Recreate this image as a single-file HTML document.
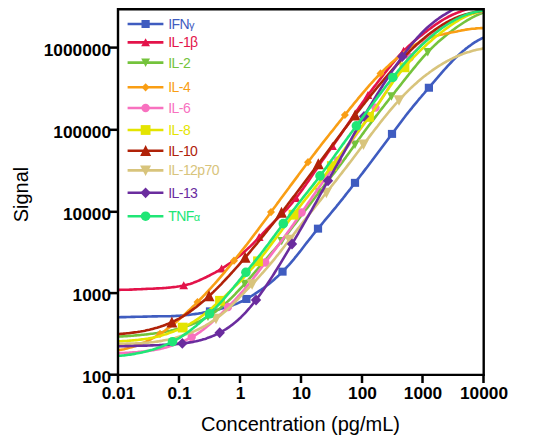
<!DOCTYPE html>
<html><head><meta charset="utf-8"><style>
html,body{margin:0;padding:0;background:#fff;width:534px;height:439px;overflow:hidden}
svg{display:block}
.tk{font-family:"Liberation Sans",sans-serif;font-weight:bold;font-size:17.3px;fill:#000}
.tt{font-family:"Liberation Sans",sans-serif;font-size:20px;fill:#000}
.lg{font-family:"Liberation Sans",sans-serif;font-size:14px;letter-spacing:-0.55px}
.gk{font-size:11px}
</style></head><body>
<svg width="534" height="439" viewBox="0 0 534 439">
<defs><clipPath id="cp"><rect x="118" y="9" width="366" height="366"/></clipPath></defs>
<rect width="534" height="439" fill="#fff"/>
<g clip-path="url(#cp)"><polyline points="118,317.2 119.5,317.2 121,317.1 122.5,317.1 124,317.1 125.5,317.1 127,317.0 128.5,317.0 130,317.0 131.5,316.9 133,316.9 134.5,316.9 136,316.8 137.5,316.8 139,316.8 140.5,316.7 142,316.7 143.5,316.6 145,316.6 146.5,316.6 148,316.5 149.5,316.5 151,316.5 152.5,316.4 154,316.4 155.5,316.4 157,316.4 158.5,316.3 160,316.3 161.5,316.3 163,316.3 164.5,316.3 166,316.3 167.5,316.3 169,316.2 170.5,316.2 172,316.1 173.5,316.1 175,316.0 176.5,315.9 178,315.8 179.5,315.7 181,315.6 182.5,315.5 184,315.3 185.5,315.2 187,315.0 188.5,314.9 190,314.7 191.5,314.5 193,314.3 194.5,314.1 196,313.9 197.5,313.7 199,313.4 200.5,313.2 202,312.9 203.5,312.6 205,312.4 206.5,312.1 208,311.8 209.5,311.5 211,311.1 212.5,310.8 214,310.5 215.5,310.1 217,309.7 218.5,309.4 220,309.0 221.5,308.6 223,308.2 224.5,307.8 226,307.3 227.5,306.9 229,306.4 230.5,305.9 232,305.4 233.5,304.9 235,304.3 236.5,303.7 238,303.1 239.5,302.4 241,301.7 242.5,301.0 244,300.2 245.5,299.4 247,298.6 248.5,297.8 250,296.9 251.5,296.0 253,295.1 254.5,294.2 256,293.2 257.5,292.2 259,291.2 260.5,290.2 262,289.1 263.5,288.1 265,287.0 266.5,285.8 268,284.7 269.5,283.5 271,282.2 272.5,281.0 274,279.7 275.5,278.3 277,277.0 278.5,275.6 280,274.1 281.5,272.7 283,271.1 284.5,269.6 286,268.0 287.5,266.4 289,264.8 290.5,263.1 292,261.3 293.5,259.6 295,257.7 296.5,255.9 298,254.0 299.5,252.1 301,250.2 302.5,248.2 304,246.3 305.5,244.3 307,242.4 308.5,240.5 310,238.6 311.5,236.7 313,234.8 314.5,232.9 316,231.1 317.5,229.2 319,227.4 320.5,225.6 322,223.8 323.5,222.0 325,220.2 326.5,218.4 328,216.6 329.5,214.8 331,213.0 332.5,211.2 334,209.4 335.5,207.6 337,205.7 338.5,203.9 340,202.0 341.5,200.1 343,198.3 344.5,196.4 346,194.4 347.5,192.5 349,190.6 350.5,188.7 352,186.7 353.5,184.8 355,182.8 356.5,180.9 358,178.9 359.5,177.0 361,175.0 362.5,173.1 364,171.1 365.5,169.1 367,167.2 368.5,165.2 370,163.2 371.5,161.3 373,159.3 374.5,157.3 376,155.3 377.5,153.3 379,151.3 380.5,149.3 382,147.3 383.5,145.3 385,143.3 386.5,141.3 388,139.3 389.5,137.3 391,135.2 392.5,133.2 394,131.2 395.5,129.2 397,127.2 398.5,125.2 400,123.2 401.5,121.2 403,119.2 404.5,117.3 406,115.3 407.5,113.4 409,111.5 410.5,109.6 412,107.8 413.5,105.9 415,104.1 416.5,102.3 418,100.5 419.5,98.7 421,97.0 422.5,95.2 424,93.5 425.5,91.7 427,89.9 428.5,88.2 430,86.4 431.5,84.7 433,82.9 434.5,81.2 436,79.4 437.5,77.7 439,75.9 440.5,74.2 442,72.4 443.5,70.7 445,69.0 446.5,67.3 448,65.7 449.5,64.1 451,62.5 452.5,60.9 454,59.4 455.5,57.9 457,56.5 458.5,55.1 460,53.7 461.5,52.4 463,51.1 464.5,49.9 466,48.6 467.5,47.5 469,46.3 470.5,45.3 472,44.2 473.5,43.2 475,42.2 476.5,41.3 478,40.4 479.5,39.6 481,38.8 482.5,38.1 484,37.4" fill="none" stroke="#3f5cc0" stroke-width="2.6" stroke-linejoin="round"/><rect x="205.90" y="307.35" width="8.20" height="8.00" fill="#3f5cc0"/><rect x="242.30" y="294.96" width="8.20" height="8.00" fill="#3f5cc0"/><rect x="278.40" y="267.65" width="8.20" height="8.00" fill="#3f5cc0"/><rect x="313.90" y="224.64" width="8.20" height="8.00" fill="#3f5cc0"/><rect x="350.90" y="178.84" width="8.20" height="8.00" fill="#3f5cc0"/><rect x="387.90" y="129.90" width="8.20" height="8.00" fill="#3f5cc0"/><rect x="424.80" y="83.73" width="8.20" height="8.00" fill="#3f5cc0"/><polyline points="118,289.9 119.5,289.9 121,289.8 122.5,289.8 124,289.8 125.5,289.7 127,289.7 128.5,289.7 130,289.6 131.5,289.6 133,289.5 134.5,289.4 136,289.4 137.5,289.3 139,289.2 140.5,289.2 142,289.1 143.5,289.0 145,289.0 146.5,288.9 148,288.8 149.5,288.8 151,288.7 152.5,288.7 154,288.6 155.5,288.5 157,288.4 158.5,288.4 160,288.3 161.5,288.2 163,288.1 164.5,288.0 166,287.9 167.5,287.7 169,287.6 170.5,287.5 172,287.3 173.5,287.1 175,287.0 176.5,286.8 178,286.5 179.5,286.3 181,286.0 182.5,285.8 184,285.5 185.5,285.1 187,284.7 188.5,284.3 190,283.9 191.5,283.4 193,282.9 194.5,282.3 196,281.7 197.5,281.1 199,280.5 200.5,279.8 202,279.1 203.5,278.4 205,277.7 206.5,277.0 208,276.2 209.5,275.5 211,274.7 212.5,273.9 214,273.1 215.5,272.3 217,271.4 218.5,270.6 220,269.7 221.5,268.7 223,267.8 224.5,266.8 226,265.9 227.5,264.8 229,263.8 230.5,262.8 232,261.7 233.5,260.6 235,259.5 236.5,258.3 238,257.1 239.5,255.9 241,254.7 242.5,253.4 244,252.1 245.5,250.8 247,249.4 248.5,248.0 250,246.6 251.5,245.1 253,243.7 254.5,242.1 256,240.6 257.5,239.1 259,237.5 260.5,235.9 262,234.3 263.5,232.7 265,231.1 266.5,229.5 268,228.0 269.5,226.4 271,224.9 272.5,223.4 274,221.9 275.5,220.4 277,219.0 278.5,217.6 280,216.2 281.5,214.7 283,213.3 284.5,211.7 286,210.1 287.5,208.5 289,206.7 290.5,205.0 292,203.2 293.5,201.3 295,199.4 296.5,197.4 298,195.5 299.5,193.5 301,191.4 302.5,189.4 304,187.3 305.5,185.2 307,183.1 308.5,180.9 310,178.7 311.5,176.5 313,174.3 314.5,172.1 316,169.9 317.5,167.7 319,165.5 320.5,163.3 322,161.1 323.5,159.0 325,156.9 326.5,154.7 328,152.6 329.5,150.5 331,148.4 332.5,146.3 334,144.2 335.5,142.1 337,139.9 338.5,137.8 340,135.7 341.5,133.5 343,131.3 344.5,129.1 346,126.9 347.5,124.6 349,122.4 350.5,120.1 352,117.8 353.5,115.6 355,113.3 356.5,111.1 358,109.0 359.5,106.8 361,104.7 362.5,102.6 364,100.5 365.5,98.5 367,96.4 368.5,94.4 370,92.4 371.5,90.4 373,88.4 374.5,86.4 376,84.5 377.5,82.5 379,80.5 380.5,78.6 382,76.7 383.5,74.7 385,72.8 386.5,70.9 388,69.0 389.5,67.1 391,65.3 392.5,63.4 394,61.6 395.5,59.8 397,58.1 398.5,56.4 400,54.7 401.5,53.1 403,51.6 404.5,50.0 406,48.6 407.5,47.1 409,45.7 410.5,44.4 412,43.1 413.5,41.8 415,40.5 416.5,39.3 418,38.0 419.5,36.8 421,35.6 422.5,34.5 424,33.3 425.5,32.1 427,31.0 428.5,29.8 430,28.7 431.5,27.6 433,26.5 434.5,25.4 436,24.3 437.5,23.3 439,22.3 440.5,21.3 442,20.4 443.5,19.5 445,18.6 446.5,17.8 448,17.0 449.5,16.2 451,15.5 452.5,14.8 454,14.1 455.5,13.5 457,12.9 458.5,12.3 460,11.7 461.5,11.1 463,10.6 464.5,10.0 466,9.5 467.5,9.0 469,8.6 470.5,8.1 472,7.7 473.5,7.3 475,6.9 476.5,6.5 478,6.1 479.5,5.7 481,5.4 482.5,5.1 484,4.8" fill="none" stroke="#e3134a" stroke-width="2.6" stroke-linejoin="round"/><path d="M183.70 281.32L188.10 289.32L179.30 289.32Z" fill="#e3134a"/><path d="M221.60 264.48L226.00 272.48L217.20 272.48Z" fill="#e3134a"/><path d="M259.20 233.09L263.60 241.09L254.80 241.09Z" fill="#e3134a"/><path d="M296.00 193.90L300.40 201.90L291.60 201.90Z" fill="#e3134a"/><path d="M332.50 142.09L336.90 150.09L328.10 150.09Z" fill="#e3134a"/><path d="M368.00 90.88L372.40 98.88L363.60 98.88Z" fill="#e3134a"/><path d="M403.60 46.75L408.00 54.75L399.20 54.75Z" fill="#e3134a"/><polyline points="118,336.6 119.5,336.5 121,336.5 122.5,336.4 124,336.3 125.5,336.2 127,336.1 128.5,336.0 130,335.9 131.5,335.8 133,335.7 134.5,335.5 136,335.4 137.5,335.3 139,335.1 140.5,335.0 142,334.8 143.5,334.7 145,334.5 146.5,334.4 148,334.2 149.5,334.0 151,333.8 152.5,333.7 154,333.5 155.5,333.3 157,333.1 158.5,332.8 160,332.6 161.5,332.4 163,332.1 164.5,331.8 166,331.6 167.5,331.3 169,331.0 170.5,330.7 172,330.3 173.5,330.0 175,329.6 176.5,329.2 178,328.9 179.5,328.4 181,328.0 182.5,327.6 184,327.1 185.5,326.6 187,326.1 188.5,325.6 190,325.0 191.5,324.5 193,323.9 194.5,323.3 196,322.7 197.5,322.0 199,321.4 200.5,320.7 202,320.0 203.5,319.2 205,318.4 206.5,317.6 208,316.7 209.5,315.8 211,314.8 212.5,313.8 214,312.7 215.5,311.6 217,310.5 218.5,309.4 220,308.2 221.5,306.9 223,305.6 224.5,304.3 226,303.0 227.5,301.6 229,300.2 230.5,298.8 232,297.3 233.5,295.8 235,294.3 236.5,292.7 238,291.1 239.5,289.5 241,287.9 242.5,286.3 244,284.6 245.5,282.9 247,281.2 248.5,279.5 250,277.8 251.5,276.1 253,274.3 254.5,272.6 256,270.8 257.5,269.1 259,267.3 260.5,265.5 262,263.8 263.5,262.0 265,260.2 266.5,258.5 268,256.8 269.5,255.1 271,253.4 272.5,251.7 274,250.0 275.5,248.3 277,246.5 278.5,244.8 280,243.0 281.5,241.2 283,239.3 284.5,237.4 286,235.5 287.5,233.6 289,231.7 290.5,229.7 292,227.8 293.5,225.8 295,223.9 296.5,221.9 298,219.9 299.5,218.0 301,216.0 302.5,214.0 304,212.0 305.5,210.0 307,208.1 308.5,206.1 310,204.1 311.5,202.1 313,200.2 314.5,198.2 316,196.3 317.5,194.3 319,192.4 320.5,190.4 322,188.5 323.5,186.6 325,184.6 326.5,182.7 328,180.8 329.5,178.9 331,176.9 332.5,175.0 334,173.1 335.5,171.1 337,169.2 338.5,167.2 340,165.2 341.5,163.2 343,161.2 344.5,159.1 346,157.1 347.5,155.0 349,152.9 350.5,150.8 352,148.7 353.5,146.6 355,144.5 356.5,142.4 358,140.3 359.5,138.2 361,136.2 362.5,134.1 364,132.1 365.5,130.0 367,128.0 368.5,126.0 370,124.0 371.5,122.0 373,120.1 374.5,118.1 376,116.1 377.5,114.2 379,112.2 380.5,110.3 382,108.4 383.5,106.5 385,104.5 386.5,102.6 388,100.7 389.5,98.8 391,96.9 392.5,95.0 394,93.2 395.5,91.3 397,89.4 398.5,87.5 400,85.6 401.5,83.7 403,81.8 404.5,79.9 406,78.0 407.5,76.1 409,74.2 410.5,72.4 412,70.5 413.5,68.6 415,66.8 416.5,65.0 418,63.2 419.5,61.4 421,59.6 422.5,57.9 424,56.2 425.5,54.6 427,53.0 428.5,51.4 430,49.8 431.5,48.3 433,46.9 434.5,45.4 436,44.0 437.5,42.6 439,41.3 440.5,40.0 442,38.7 443.5,37.4 445,36.2 446.5,35.0 448,33.8 449.5,32.6 451,31.5 452.5,30.3 454,29.2 455.5,28.1 457,27.0 458.5,26.0 460,25.0 461.5,24.0 463,23.0 464.5,22.0 466,21.1 467.5,20.2 469,19.3 470.5,18.5 472,17.6 473.5,16.9 475,16.1 476.5,15.4 478,14.7 479.5,14.1 481,13.5 482.5,12.9 484,12.3" fill="none" stroke="#74c33c" stroke-width="2.6" stroke-linejoin="round"/><path d="M208.00 321.09L212.40 312.69L203.60 312.69Z" fill="#74c33c"/><path d="M244.80 288.12L249.20 279.72L240.40 279.72Z" fill="#74c33c"/><path d="M281.70 245.33L286.10 236.93L277.30 236.93Z" fill="#74c33c"/><path d="M319.20 196.53L323.60 188.13L314.80 188.13Z" fill="#74c33c"/><path d="M355.00 148.90L359.40 140.50L350.60 140.50Z" fill="#74c33c"/><path d="M391.50 100.72L395.90 92.32L387.10 92.32Z" fill="#74c33c"/><path d="M427.80 56.52L432.20 48.12L423.40 48.12Z" fill="#74c33c"/><polyline points="118,350.4 119.5,350.1 121,349.8 122.5,349.5 124,349.2 125.5,348.8 127,348.4 128.5,348.0 130,347.6 131.5,347.2 133,346.7 134.5,346.2 136,345.7 137.5,345.2 139,344.6 140.5,344.0 142,343.4 143.5,342.7 145,342.1 146.5,341.4 148,340.7 149.5,339.9 151,339.2 152.5,338.4 154,337.5 155.5,336.7 157,335.8 158.5,334.9 160,334.0 161.5,333.0 163,332.0 164.5,331.0 166,329.9 167.5,328.8 169,327.7 170.5,326.6 172,325.4 173.5,324.2 175,322.9 176.5,321.7 178,320.4 179.5,319.1 181,317.7 182.5,316.4 184,315.0 185.5,313.6 187,312.2 188.5,310.8 190,309.4 191.5,308.0 193,306.5 194.5,305.1 196,303.6 197.5,302.1 199,300.6 200.5,299.0 202,297.5 203.5,295.9 205,294.3 206.5,292.7 208,291.1 209.5,289.5 211,287.8 212.5,286.2 214,284.5 215.5,282.8 217,281.1 218.5,279.3 220,277.6 221.5,275.8 223,274.1 224.5,272.3 226,270.5 227.5,268.6 229,266.8 230.5,265.0 232,263.1 233.5,261.3 235,259.4 236.5,257.5 238,255.6 239.5,253.7 241,251.8 242.5,249.9 244,248.0 245.5,246.1 247,244.2 248.5,242.2 250,240.3 251.5,238.3 253,236.3 254.5,234.3 256,232.4 257.5,230.4 259,228.3 260.5,226.3 262,224.3 263.5,222.3 265,220.3 266.5,218.2 268,216.2 269.5,214.1 271,212.1 272.5,210.0 274,208.0 275.5,206.0 277,203.9 278.5,201.9 280,199.8 281.5,197.8 283,195.8 284.5,193.7 286,191.7 287.5,189.7 289,187.7 290.5,185.6 292,183.6 293.5,181.6 295,179.6 296.5,177.6 298,175.6 299.5,173.5 301,171.5 302.5,169.5 304,167.5 305.5,165.5 307,163.5 308.5,161.5 310,159.5 311.5,157.5 313,155.5 314.5,153.6 316,151.6 317.5,149.6 319,147.7 320.5,145.8 322,143.8 323.5,141.9 325,140.0 326.5,138.1 328,136.2 329.5,134.3 331,132.4 332.5,130.6 334,128.7 335.5,126.8 337,124.9 338.5,123.0 340,121.1 341.5,119.2 343,117.3 344.5,115.4 346,113.5 347.5,111.7 349,109.8 350.5,107.9 352,106.1 353.5,104.2 355,102.4 356.5,100.6 358,98.7 359.5,96.9 361,95.2 362.5,93.4 364,91.6 365.5,89.9 367,88.1 368.5,86.4 370,84.7 371.5,83.0 373,81.4 374.5,79.7 376,78.1 377.5,76.5 379,75.0 380.5,73.4 382,71.9 383.5,70.4 385,68.9 386.5,67.5 388,66.1 389.5,64.7 391,63.3 392.5,62.0 394,60.7 395.5,59.4 397,58.1 398.5,56.9 400,55.6 401.5,54.4 403,53.2 404.5,52.1 406,51.0 407.5,49.8 409,48.8 410.5,47.7 412,46.7 413.5,45.7 415,44.8 416.5,43.9 418,43.0 419.5,42.2 421,41.4 422.5,40.7 424,40.0 425.5,39.4 427,38.8 428.5,38.2 430,37.7 431.5,37.2 433,36.7 434.5,36.3 436,35.9 437.5,35.5 439,35.1 440.5,34.8 442,34.5 443.5,34.2 445,33.8 446.5,33.5 448,33.2 449.5,32.9 451,32.6 452.5,32.3 454,32.0 455.5,31.7 457,31.4 458.5,31.1 460,30.8 461.5,30.4 463,30.2 464.5,29.9 466,29.6 467.5,29.4 469,29.2 470.5,29.0 472,28.8 473.5,28.7 475,28.6 476.5,28.4 478,28.3 479.5,28.2 481,28.1 482.5,28.1 484,28.0" fill="none" stroke="#f99e14" stroke-width="2.6" stroke-linejoin="round"/><path d="M160.00 329.87L164.00 333.97L160.00 338.07L156.00 333.97Z" fill="#f99e14"/><path d="M197.50 297.97L201.50 302.07L197.50 306.17L193.50 302.07Z" fill="#f99e14"/><path d="M234.00 256.54L238.00 260.64L234.00 264.74L230.00 260.64Z" fill="#f99e14"/><path d="M271.00 207.99L275.00 212.09L271.00 216.19L267.00 212.09Z" fill="#f99e14"/><path d="M308.00 158.06L312.00 162.16L308.00 166.26L304.00 162.16Z" fill="#f99e14"/><path d="M344.90 110.81L348.90 114.91L344.90 119.01L340.90 114.91Z" fill="#f99e14"/><path d="M380.50 69.31L384.50 73.41L380.50 77.51L376.50 73.41Z" fill="#f99e14"/><polyline points="118,353.2 119.5,353.2 121,353.1 122.5,353.0 124,353.0 125.5,352.9 127,352.8 128.5,352.7 130,352.6 131.5,352.5 133,352.4 134.5,352.3 136,352.2 137.5,352.1 139,351.9 140.5,351.8 142,351.6 143.5,351.5 145,351.3 146.5,351.1 148,350.9 149.5,350.7 151,350.5 152.5,350.3 154,350.1 155.5,349.8 157,349.5 158.5,349.2 160,348.9 161.5,348.6 163,348.2 164.5,347.8 166,347.4 167.5,347.0 169,346.5 170.5,346.1 172,345.6 173.5,345.1 175,344.5 176.5,344.0 178,343.4 179.5,342.8 181,342.2 182.5,341.6 184,340.9 185.5,340.2 187,339.5 188.5,338.8 190,338.0 191.5,337.2 193,336.4 194.5,335.5 196,334.6 197.5,333.6 199,332.7 200.5,331.6 202,330.5 203.5,329.4 205,328.3 206.5,327.0 208,325.8 209.5,324.5 211,323.2 212.5,321.8 214,320.5 215.5,319.1 217,317.7 218.5,316.3 220,314.8 221.5,313.4 223,311.9 224.5,310.5 226,309.0 227.5,307.5 229,306.0 230.5,304.4 232,302.9 233.5,301.3 235,299.8 236.5,298.2 238,296.5 239.5,294.9 241,293.2 242.5,291.5 244,289.8 245.5,288.0 247,286.2 248.5,284.4 250,282.6 251.5,280.7 253,278.8 254.5,276.8 256,274.9 257.5,272.9 259,270.9 260.5,268.9 262,266.9 263.5,264.9 265,262.9 266.5,260.9 268,258.9 269.5,256.9 271,254.9 272.5,252.9 274,250.9 275.5,248.9 277,246.9 278.5,244.9 280,242.9 281.5,240.9 283,238.8 284.5,236.8 286,234.7 287.5,232.6 289,230.5 290.5,228.4 292,226.3 293.5,224.2 295,222.0 296.5,219.9 298,217.7 299.5,215.6 301,213.4 302.5,211.2 304,209.0 305.5,206.9 307,204.7 308.5,202.5 310,200.4 311.5,198.2 313,196.0 314.5,193.9 316,191.7 317.5,189.6 319,187.4 320.5,185.3 322,183.2 323.5,181.0 325,178.9 326.5,176.8 328,174.7 329.5,172.5 331,170.4 332.5,168.2 334,166.1 335.5,163.9 337,161.8 338.5,159.6 340,157.5 341.5,155.3 343,153.2 344.5,151.1 346,148.9 347.5,146.8 349,144.7 350.5,142.6 352,140.5 353.5,138.4 355,136.3 356.5,134.2 358,132.1 359.5,130.1 361,128.0 362.5,125.9 364,123.9 365.5,121.8 367,119.7 368.5,117.6 370,115.4 371.5,113.3 373,111.2 374.5,109.0 376,106.9 377.5,104.7 379,102.5 380.5,100.3 382,98.0 383.5,95.8 385,93.5 386.5,91.1 388,88.8 389.5,86.4 391,84.0 392.5,81.6 394,79.3 395.5,76.9 397,74.7 398.5,72.4 400,70.3 401.5,68.2 403,66.1 404.5,64.1 406,62.2 407.5,60.3 409,58.4 410.5,56.6 412,54.9 413.5,53.1 415,51.4 416.5,49.8 418,48.2 419.5,46.6 421,45.0 422.5,43.5 424,42.0 425.5,40.6 427,39.2 428.5,37.8 430,36.5 431.5,35.2 433,34.0 434.5,32.8 436,31.6 437.5,30.4 439,29.3 440.5,28.2 442,27.1 443.5,26.1 445,25.1 446.5,24.1 448,23.2 449.5,22.3 451,21.4 452.5,20.6 454,19.8 455.5,19.1 457,18.4 458.5,17.7 460,17.1 461.5,16.5 463,15.9 464.5,15.4 466,14.9 467.5,14.5 469,14.0 470.5,13.7 472,13.3 473.5,13.0 475,12.8 476.5,12.5 478,12.3 479.5,12.1 481,11.9 482.5,11.8 484,11.7" fill="none" stroke="#f871bf" stroke-width="2.6" stroke-linejoin="round"/><circle cx="191.70" cy="337.11" r="4.20" fill="#f871bf"/><circle cx="228.00" cy="306.98" r="4.20" fill="#f871bf"/><circle cx="265.30" cy="262.52" r="4.20" fill="#f871bf"/><circle cx="301.60" cy="212.52" r="4.20" fill="#f871bf"/><circle cx="338.00" cy="160.36" r="4.20" fill="#f871bf"/><circle cx="375.50" cy="107.60" r="4.20" fill="#f871bf"/><circle cx="410.00" cy="57.22" r="4.20" fill="#f871bf"/><polyline points="118,341.4 119.5,341.3 121,341.2 122.5,341.1 124,341.0 125.5,341.0 127,340.9 128.5,340.7 130,340.6 131.5,340.5 133,340.4 134.5,340.3 136,340.1 137.5,340.0 139,339.8 140.5,339.6 142,339.4 143.5,339.2 145,339.0 146.5,338.8 148,338.6 149.5,338.3 151,338.0 152.5,337.7 154,337.4 155.5,337.1 157,336.7 158.5,336.4 160,336.0 161.5,335.6 163,335.1 164.5,334.6 166,334.2 167.5,333.7 169,333.1 170.5,332.6 172,332.1 173.5,331.5 175,330.9 176.5,330.3 178,329.7 179.5,329.0 181,328.4 182.5,327.7 184,326.9 185.5,326.2 187,325.4 188.5,324.6 190,323.8 191.5,322.9 193,322.0 194.5,321.1 196,320.1 197.5,319.1 199,318.1 200.5,317.0 202,315.9 203.5,314.7 205,313.6 206.5,312.4 208,311.2 209.5,310.0 211,308.7 212.5,307.4 214,306.1 215.5,304.8 217,303.5 218.5,302.2 220,300.8 221.5,299.4 223,298.0 224.5,296.6 226,295.2 227.5,293.7 229,292.3 230.5,290.8 232,289.4 233.5,287.9 235,286.4 236.5,285.0 238,283.5 239.5,282.0 241,280.5 242.5,278.9 244,277.3 245.5,275.7 247,274.1 248.5,272.4 250,270.7 251.5,269.0 253,267.3 254.5,265.5 256,263.7 257.5,261.9 259,260.1 260.5,258.2 262,256.3 263.5,254.5 265,252.6 266.5,250.6 268,248.7 269.5,246.7 271,244.8 272.5,242.8 274,240.8 275.5,238.7 277,236.7 278.5,234.7 280,232.7 281.5,230.7 283,228.6 284.5,226.6 286,224.6 287.5,222.6 289,220.6 290.5,218.7 292,216.7 293.5,214.7 295,212.7 296.5,210.8 298,208.8 299.5,206.9 301,205.0 302.5,203.0 304,201.1 305.5,199.2 307,197.4 308.5,195.5 310,193.7 311.5,191.8 313,190.0 314.5,188.2 316,186.4 317.5,184.5 319,182.7 320.5,180.8 322,178.9 323.5,177.0 325,175.0 326.5,173.1 328,171.1 329.5,169.1 331,167.2 332.5,165.2 334,163.2 335.5,161.2 337,159.2 338.5,157.2 340,155.2 341.5,153.2 343,151.2 344.5,149.3 346,147.3 347.5,145.3 349,143.3 350.5,141.4 352,139.4 353.5,137.4 355,135.5 356.5,133.5 358,131.5 359.5,129.6 361,127.6 362.5,125.6 364,123.6 365.5,121.6 367,119.6 368.5,117.6 370,115.6 371.5,113.5 373,111.5 374.5,109.4 376,107.3 377.5,105.1 379,102.9 380.5,100.7 382,98.5 383.5,96.2 385,93.9 386.5,91.6 388,89.4 389.5,87.1 391,84.9 392.5,82.7 394,80.6 395.5,78.6 397,76.6 398.5,74.6 400,72.7 401.5,70.9 403,69.1 404.5,67.3 406,65.6 407.5,63.9 409,62.2 410.5,60.6 412,59.0 413.5,57.4 415,55.9 416.5,54.3 418,52.8 419.5,51.4 421,49.9 422.5,48.5 424,47.1 425.5,45.7 427,44.3 428.5,43.0 430,41.7 431.5,40.4 433,39.1 434.5,37.8 436,36.6 437.5,35.4 439,34.2 440.5,33.0 442,31.8 443.5,30.7 445,29.5 446.5,28.4 448,27.4 449.5,26.3 451,25.2 452.5,24.2 454,23.2 455.5,22.2 457,21.3 458.5,20.3 460,19.4 461.5,18.6 463,17.8 464.5,17.0 466,16.3 467.5,15.6 469,15.0 470.5,14.4 472,13.9 473.5,13.4 475,12.9 476.5,12.5 478,12.2 479.5,11.8 481,11.5 482.5,11.3 484,11.0" fill="none" stroke="#e4e400" stroke-width="2.6" stroke-linejoin="round"/><rect x="177.80" y="322.67" width="9.80" height="9.80" fill="#e4e400"/><rect x="215.10" y="295.89" width="9.80" height="9.80" fill="#e4e400"/><rect x="253.10" y="256.39" width="9.80" height="9.80" fill="#e4e400"/><rect x="288.60" y="209.81" width="9.80" height="9.80" fill="#e4e400"/><rect x="326.90" y="161.20" width="9.80" height="9.80" fill="#e4e400"/><rect x="364.10" y="112.04" width="9.80" height="9.80" fill="#e4e400"/><rect x="399.60" y="62.41" width="9.80" height="9.80" fill="#e4e400"/><polyline points="118,334.2 119.5,334.0 121,333.9 122.5,333.8 124,333.6 125.5,333.5 127,333.3 128.5,333.2 130,333.0 131.5,332.8 133,332.6 134.5,332.4 136,332.2 137.5,332.0 139,331.7 140.5,331.5 142,331.2 143.5,331.0 145,330.7 146.5,330.3 148,330.0 149.5,329.7 151,329.3 152.5,328.9 154,328.5 155.5,328.1 157,327.7 158.5,327.2 160,326.8 161.5,326.3 163,325.8 164.5,325.2 166,324.6 167.5,324.1 169,323.4 170.5,322.8 172,322.1 173.5,321.4 175,320.7 176.5,319.9 178,319.1 179.5,318.3 181,317.4 182.5,316.6 184,315.6 185.5,314.7 187,313.7 188.5,312.7 190,311.6 191.5,310.5 193,309.4 194.5,308.3 196,307.2 197.5,306.0 199,304.8 200.5,303.6 202,302.3 203.5,301.0 205,299.7 206.5,298.4 208,297.0 209.5,295.6 211,294.2 212.5,292.8 214,291.3 215.5,289.9 217,288.4 218.5,286.8 220,285.3 221.5,283.8 223,282.2 224.5,280.6 226,279.0 227.5,277.4 229,275.8 230.5,274.1 232,272.5 233.5,270.8 235,269.2 236.5,267.5 238,265.8 239.5,264.1 241,262.4 242.5,260.7 244,258.9 245.5,257.2 247,255.4 248.5,253.6 250,251.8 251.5,250.0 253,248.2 254.5,246.4 256,244.6 257.5,242.8 259,240.9 260.5,239.1 262,237.2 263.5,235.4 265,233.5 266.5,231.6 268,229.7 269.5,227.9 271,226.0 272.5,224.1 274,222.2 275.5,220.3 277,218.3 278.5,216.4 280,214.5 281.5,212.6 283,210.6 284.5,208.7 286,206.7 287.5,204.8 289,202.8 290.5,200.9 292,198.9 293.5,196.9 295,195.0 296.5,193.0 298,191.0 299.5,189.0 301,187.0 302.5,185.0 304,183.0 305.5,181.0 307,179.0 308.5,177.0 310,175.0 311.5,173.0 313,171.0 314.5,169.0 316,167.0 317.5,165.0 319,163.0 320.5,161.1 322,159.1 323.5,157.1 325,155.1 326.5,153.1 328,151.1 329.5,149.1 331,147.1 332.5,145.1 334,143.1 335.5,141.1 337,139.0 338.5,137.0 340,135.0 341.5,133.0 343,131.0 344.5,129.0 346,127.1 347.5,125.1 349,123.1 350.5,121.2 352,119.2 353.5,117.3 355,115.3 356.5,113.4 358,111.5 359.5,109.6 361,107.7 362.5,105.8 364,103.9 365.5,102.0 367,100.1 368.5,98.2 370,96.4 371.5,94.5 373,92.7 374.5,90.8 376,89.0 377.5,87.2 379,85.4 380.5,83.6 382,81.8 383.5,80.1 385,78.3 386.5,76.5 388,74.8 389.5,73.1 391,71.3 392.5,69.6 394,67.9 395.5,66.3 397,64.6 398.5,63.0 400,61.3 401.5,59.7 403,58.1 404.5,56.6 406,55.0 407.5,53.5 409,52.0 410.5,50.5 412,49.1 413.5,47.6 415,46.2 416.5,44.8 418,43.5 419.5,42.1 421,40.8 422.5,39.5 424,38.3 425.5,37.0 427,35.8 428.5,34.6 430,33.4 431.5,32.3 433,31.2 434.5,30.1 436,29.0 437.5,28.0 439,27.0 440.5,26.0 442,25.1 443.5,24.2 445,23.3 446.5,22.4 448,21.6 449.5,20.8 451,20.1 452.5,19.4 454,18.7 455.5,18.0 457,17.4 458.5,16.8 460,16.3 461.5,15.8 463,15.3 464.5,14.8 466,14.3 467.5,13.9 469,13.5 470.5,13.1 472,12.8 473.5,12.4 475,12.1 476.5,11.8 478,11.5 479.5,11.2 481,11.0 482.5,10.7 484,10.5" fill="none" stroke="#b02208" stroke-width="2.6" stroke-linejoin="round"/><path d="M171.90 316.39L177.40 327.39L166.40 327.39Z" fill="#b02208"/><path d="M209.00 290.33L214.50 301.33L203.50 301.33Z" fill="#b02208"/><path d="M245.10 251.85L250.60 262.85L239.60 262.85Z" fill="#b02208"/><path d="M281.50 206.79L287.00 217.79L276.00 217.79Z" fill="#b02208"/><path d="M318.30 158.20L323.80 169.20L312.80 169.20Z" fill="#b02208"/><path d="M355.10 109.43L360.60 120.43L349.60 120.43Z" fill="#b02208"/><polyline points="118,343.8 119.5,343.8 121,343.8 122.5,343.7 124,343.7 125.5,343.7 127,343.6 128.5,343.6 130,343.6 131.5,343.5 133,343.5 134.5,343.5 136,343.4 137.5,343.4 139,343.3 140.5,343.2 142,343.1 143.5,343.0 145,342.9 146.5,342.8 148,342.6 149.5,342.5 151,342.3 152.5,342.2 154,342.0 155.5,341.8 157,341.6 158.5,341.4 160,341.1 161.5,340.9 163,340.6 164.5,340.3 166,340.0 167.5,339.7 169,339.4 170.5,339.0 172,338.7 173.5,338.3 175,337.9 176.5,337.4 178,337.0 179.5,336.6 181,336.1 182.5,335.6 184,335.1 185.5,334.6 187,334.1 188.5,333.5 190,332.9 191.5,332.4 193,331.7 194.5,331.1 196,330.4 197.5,329.7 199,329.0 200.5,328.2 202,327.5 203.5,326.6 205,325.8 206.5,324.9 208,324.0 209.5,323.1 211,322.1 212.5,321.1 214,320.1 215.5,319.0 217,318.0 218.5,316.8 220,315.7 221.5,314.5 223,313.2 224.5,312.0 226,310.7 227.5,309.3 229,307.9 230.5,306.5 232,305.0 233.5,303.6 235,302.1 236.5,300.5 238,299.0 239.5,297.4 241,295.9 242.5,294.3 244,292.8 245.5,291.2 247,289.6 248.5,288.0 250,286.5 251.5,284.9 253,283.3 254.5,281.7 256,280.1 257.5,278.5 259,276.8 260.5,275.2 262,273.5 263.5,271.9 265,270.2 266.5,268.5 268,266.7 269.5,265.0 271,263.2 272.5,261.4 274,259.6 275.5,257.7 277,255.8 278.5,254.0 280,252.1 281.5,250.1 283,248.2 284.5,246.3 286,244.3 287.5,242.4 289,240.4 290.5,238.5 292,236.5 293.5,234.5 295,232.6 296.5,230.6 298,228.6 299.5,226.7 301,224.8 302.5,222.8 304,220.9 305.5,219.0 307,217.1 308.5,215.2 310,213.3 311.5,211.5 313,209.6 314.5,207.7 316,205.8 317.5,203.9 319,202.0 320.5,200.1 322,198.2 323.5,196.3 325,194.4 326.5,192.5 328,190.6 329.5,188.7 331,186.8 332.5,184.9 334,183.0 335.5,181.1 337,179.1 338.5,177.2 340,175.3 341.5,173.4 343,171.4 344.5,169.5 346,167.6 347.5,165.6 349,163.6 350.5,161.7 352,159.7 353.5,157.7 355,155.7 356.5,153.7 358,151.8 359.5,149.8 361,147.8 362.5,145.8 364,143.8 365.5,141.8 367,139.8 368.5,137.9 370,135.9 371.5,133.9 373,132.0 374.5,130.0 376,128.1 377.5,126.2 379,124.2 380.5,122.3 382,120.4 383.5,118.5 385,116.7 386.5,114.8 388,113.0 389.5,111.2 391,109.4 392.5,107.6 394,105.9 395.5,104.2 397,102.5 398.5,100.8 400,99.2 401.5,97.6 403,96.0 404.5,94.4 406,92.9 407.5,91.4 409,89.9 410.5,88.4 412,87.0 413.5,85.6 415,84.2 416.5,82.9 418,81.6 419.5,80.3 421,79.0 422.5,77.8 424,76.6 425.5,75.4 427,74.3 428.5,73.2 430,72.0 431.5,71.0 433,69.9 434.5,68.9 436,67.9 437.5,66.9 439,65.9 440.5,65.0 442,64.1 443.5,63.2 445,62.3 446.5,61.5 448,60.6 449.5,59.9 451,59.1 452.5,58.4 454,57.6 455.5,57.0 457,56.3 458.5,55.7 460,55.0 461.5,54.5 463,53.9 464.5,53.3 466,52.8 467.5,52.3 469,51.9 470.5,51.4 472,51.0 473.5,50.6 475,50.2 476.5,49.8 478,49.5 479.5,49.2 481,48.9 482.5,48.6 484,48.3" fill="none" stroke="#d8c47c" stroke-width="2.6" stroke-linejoin="round"/><path d="M216.00 324.20L221.50 313.70L210.50 313.70Z" fill="#d8c47c"/><path d="M252.10 289.75L257.60 279.25L246.60 279.25Z" fill="#d8c47c"/><path d="M289.50 245.28L295.00 234.78L284.00 234.78Z" fill="#d8c47c"/><path d="M326.40 198.16L331.90 187.66L320.90 187.66Z" fill="#d8c47c"/><path d="M363.50 149.98L369.00 139.48L358.00 139.48Z" fill="#d8c47c"/><path d="M399.00 105.79L404.50 95.29L393.50 95.29Z" fill="#d8c47c"/><polyline points="118,346.3 119.5,346.2 121,346.2 122.5,346.2 124,346.2 125.5,346.1 127,346.1 128.5,346.1 130,346.0 131.5,346.0 133,346.0 134.5,345.9 136,345.9 137.5,345.8 139,345.8 140.5,345.7 142,345.7 143.5,345.6 145,345.6 146.5,345.6 148,345.5 149.5,345.5 151,345.4 152.5,345.4 154,345.3 155.5,345.3 157,345.2 158.5,345.2 160,345.1 161.5,345.0 163,344.9 164.5,344.8 166,344.8 167.5,344.7 169,344.6 170.5,344.5 172,344.3 173.5,344.2 175,344.1 176.5,344.0 178,343.9 179.5,343.7 181,343.6 182.5,343.4 184,343.2 185.5,343.1 187,342.9 188.5,342.6 190,342.4 191.5,342.2 193,341.9 194.5,341.6 196,341.3 197.5,340.9 199,340.6 200.5,340.2 202,339.8 203.5,339.3 205,338.9 206.5,338.4 208,337.8 209.5,337.3 211,336.7 212.5,336.1 214,335.5 215.5,334.8 217,334.1 218.5,333.4 220,332.6 221.5,331.8 223,330.9 224.5,330.0 226,329.1 227.5,328.1 229,327.1 230.5,326.0 232,324.9 233.5,323.7 235,322.5 236.5,321.2 238,319.9 239.5,318.6 241,317.2 242.5,315.7 244,314.2 245.5,312.6 247,310.9 248.5,309.2 250,307.5 251.5,305.7 253,303.8 254.5,301.9 256,300.0 257.5,298.0 259,296.0 260.5,293.9 262,291.8 263.5,289.7 265,287.5 266.5,285.3 268,283.0 269.5,280.7 271,278.4 272.5,276.1 274,273.7 275.5,271.3 277,268.9 278.5,266.5 280,264.1 281.5,261.6 283,259.1 284.5,256.6 286,254.1 287.5,251.6 289,249.1 290.5,246.5 292,244.0 293.5,241.5 295,238.9 296.5,236.3 298,233.8 299.5,231.2 301,228.6 302.5,226.0 304,223.4 305.5,220.8 307,218.2 308.5,215.6 310,212.9 311.5,210.3 313,207.6 314.5,204.9 316,202.3 317.5,199.6 319,196.9 320.5,194.2 322,191.5 323.5,188.8 325,186.2 326.5,183.5 328,180.8 329.5,178.1 331,175.4 332.5,172.8 334,170.1 335.5,167.4 337,164.8 338.5,162.1 340,159.4 341.5,156.7 343,154.1 344.5,151.4 346,148.7 347.5,146.0 349,143.3 350.5,140.6 352,137.9 353.5,135.2 355,132.5 356.5,129.8 358,127.1 359.5,124.4 361,121.7 362.5,119.1 364,116.4 365.5,113.8 367,111.2 368.5,108.7 370,106.1 371.5,103.6 373,101.1 374.5,98.7 376,96.2 377.5,93.8 379,91.4 380.5,89.0 382,86.7 383.5,84.3 385,82.0 386.5,79.7 388,77.4 389.5,75.1 391,72.9 392.5,70.6 394,68.4 395.5,66.2 397,64.0 398.5,61.9 400,59.8 401.5,57.7 403,55.6 404.5,53.6 406,51.5 407.5,49.6 409,47.6 410.5,45.8 412,43.9 413.5,42.1 415,40.3 416.5,38.6 418,36.9 419.5,35.3 421,33.7 422.5,32.2 424,30.7 425.5,29.2 427,27.8 428.5,26.5 430,25.2 431.5,23.9 433,22.7 434.5,21.5 436,20.4 437.5,19.3 439,18.2 440.5,17.2 442,16.2 443.5,15.2 445,14.3 446.5,13.3 448,12.5 449.5,11.6 451,10.7 452.5,9.9 454,9.1 455.5,8.4 457,7.6 458.5,6.9 460,6.2 461.5,5.5 463,4.8 464.5,4.2 466,3.5 467.5,2.9 469,2.3 470.5,1.8 472,1.2 473.5,0.7 475,0.1 476.5,-0.4 478,-0.8 479.5,-1.3 481,-1.8 482.5,-2.2 484,-2.6" fill="none" stroke="#6a2c9e" stroke-width="2.6" stroke-linejoin="round"/><path d="M182.30 338.03L187.50 343.43L182.30 348.83L177.10 343.43Z" fill="#6a2c9e"/><path d="M219.70 327.36L224.90 332.76L219.70 338.16L214.50 332.76Z" fill="#6a2c9e"/><path d="M256.00 294.59L261.20 299.99L256.00 305.39L250.80 299.99Z" fill="#6a2c9e"/><path d="M292.00 238.61L297.20 244.01L292.00 249.41L286.80 244.01Z" fill="#6a2c9e"/><path d="M328.00 175.39L333.20 180.79L328.00 186.19L322.80 180.79Z" fill="#6a2c9e"/><path d="M364.00 111.04L369.20 116.44L364.00 121.84L358.80 116.44Z" fill="#6a2c9e"/><path d="M402.30 51.15L407.50 56.55L402.30 61.95L397.10 56.55Z" fill="#6a2c9e"/><polyline points="118,356.0 119.5,355.8 121,355.7 122.5,355.5 124,355.4 125.5,355.2 127,355.0 128.5,354.8 130,354.6 131.5,354.4 133,354.1 134.5,353.9 136,353.6 137.5,353.3 139,353.0 140.5,352.7 142,352.4 143.5,352.1 145,351.7 146.5,351.3 148,350.9 149.5,350.5 151,350.1 152.5,349.7 154,349.2 155.5,348.7 157,348.2 158.5,347.7 160,347.2 161.5,346.6 163,346.0 164.5,345.4 166,344.8 167.5,344.1 169,343.4 170.5,342.7 172,341.9 173.5,341.2 175,340.4 176.5,339.5 178,338.7 179.5,337.8 181,336.8 182.5,335.9 184,334.9 185.5,333.8 187,332.8 188.5,331.7 190,330.6 191.5,329.4 193,328.3 194.5,327.1 196,325.9 197.5,324.6 199,323.4 200.5,322.1 202,320.8 203.5,319.4 205,318.1 206.5,316.7 208,315.3 209.5,313.9 211,312.4 212.5,310.9 214,309.4 215.5,307.9 217,306.3 218.5,304.7 220,303.1 221.5,301.5 223,299.8 224.5,298.1 226,296.4 227.5,294.7 229,292.9 230.5,291.1 232,289.3 233.5,287.5 235,285.6 236.5,283.8 238,282.0 239.5,280.1 241,278.3 242.5,276.4 244,274.6 245.5,272.8 247,270.9 248.5,269.1 250,267.3 251.5,265.4 253,263.6 254.5,261.7 256,259.9 257.5,258.0 259,256.1 260.5,254.2 262,252.3 263.5,250.4 265,248.4 266.5,246.4 268,244.5 269.5,242.4 271,240.4 272.5,238.4 274,236.4 275.5,234.3 277,232.3 278.5,230.2 280,228.2 281.5,226.1 283,224.1 284.5,222.0 286,220.0 287.5,218.0 289,215.9 290.5,213.9 292,211.9 293.5,209.9 295,208.0 296.5,206.0 298,204.0 299.5,202.1 301,200.2 302.5,198.3 304,196.4 305.5,194.5 307,192.7 308.5,190.8 310,188.9 311.5,187.0 313,185.1 314.5,183.1 316,181.2 317.5,179.2 319,177.2 320.5,175.2 322,173.2 323.5,171.2 325,169.1 326.5,167.1 328,165.0 329.5,162.9 331,160.8 332.5,158.8 334,156.7 335.5,154.6 337,152.5 338.5,150.4 340,148.3 341.5,146.2 343,144.1 344.5,142.1 346,140.0 347.5,137.9 349,135.9 350.5,133.8 352,131.8 353.5,129.7 355,127.7 356.5,125.6 358,123.6 359.5,121.6 361,119.6 362.5,117.6 364,115.6 365.5,113.5 367,111.5 368.5,109.5 370,107.5 371.5,105.5 373,103.5 374.5,101.4 376,99.4 377.5,97.4 379,95.4 380.5,93.4 382,91.4 383.5,89.5 385,87.5 386.5,85.5 388,83.6 389.5,81.7 391,79.8 392.5,77.9 394,76.0 395.5,74.1 397,72.3 398.5,70.4 400,68.6 401.5,66.8 403,65.1 404.5,63.3 406,61.6 407.5,59.9 409,58.2 410.5,56.6 412,55.0 413.5,53.4 415,51.8 416.5,50.3 418,48.8 419.5,47.3 421,45.8 422.5,44.4 424,43.0 425.5,41.6 427,40.2 428.5,38.9 430,37.6 431.5,36.3 433,35.0 434.5,33.8 436,32.6 437.5,31.4 439,30.2 440.5,29.1 442,28.0 443.5,27.0 445,26.0 446.5,25.0 448,24.0 449.5,23.1 451,22.2 452.5,21.3 454,20.4 455.5,19.6 457,18.8 458.5,18.1 460,17.3 461.5,16.6 463,16.0 464.5,15.4 466,14.8 467.5,14.2 469,13.7 470.5,13.3 472,12.8 473.5,12.4 475,12.1 476.5,11.7 478,11.4 479.5,11.1 481,10.9 482.5,10.7 484,10.4" fill="none" stroke="#20e676" stroke-width="2.6" stroke-linejoin="round"/><circle cx="172.50" cy="341.69" r="4.80" fill="#20e676"/><circle cx="209.60" cy="313.76" r="4.80" fill="#20e676"/><circle cx="245.90" cy="272.28" r="4.80" fill="#20e676"/><circle cx="283.30" cy="223.66" r="4.80" fill="#20e676"/><circle cx="320.00" cy="175.88" r="4.80" fill="#20e676"/><circle cx="356.40" cy="125.78" r="4.80" fill="#20e676"/><circle cx="392.80" cy="77.47" r="4.80" fill="#20e676"/></g>
<path d="M118 9.2H483.7V374.9H118Z" fill="none" stroke="#000" stroke-width="2.4"/>
<line x1="109.5" y1="47.6" x2="118" y2="47.6" stroke="#000" stroke-width="2.5"/><text x="111" y="55.8" text-anchor="end" class="tk">1000000</text><line x1="109.5" y1="129.8" x2="118" y2="129.8" stroke="#000" stroke-width="2.5"/><text x="111" y="138.0" text-anchor="end" class="tk">100000</text><line x1="109.5" y1="211.8" x2="118" y2="211.8" stroke="#000" stroke-width="2.5"/><text x="111" y="220.0" text-anchor="end" class="tk">10000</text><line x1="109.5" y1="293.1" x2="118" y2="293.1" stroke="#000" stroke-width="2.5"/><text x="111" y="301.3" text-anchor="end" class="tk">1000</text><line x1="109.5" y1="374.7" x2="118" y2="374.7" stroke="#000" stroke-width="2.5"/><text x="111" y="382.9" text-anchor="end" class="tk">100</text><line x1="118" y1="374" x2="118" y2="383" stroke="#000" stroke-width="2.5"/><text x="118.5" y="399.4" text-anchor="middle" class="tk">0.01</text><line x1="179" y1="374" x2="179" y2="383" stroke="#000" stroke-width="2.5"/><text x="179.5" y="399.4" text-anchor="middle" class="tk">0.1</text><line x1="240" y1="374" x2="240" y2="383" stroke="#000" stroke-width="2.5"/><text x="240.5" y="399.4" text-anchor="middle" class="tk">1</text><line x1="301" y1="374" x2="301" y2="383" stroke="#000" stroke-width="2.5"/><text x="301.5" y="399.4" text-anchor="middle" class="tk">10</text><line x1="362" y1="374" x2="362" y2="383" stroke="#000" stroke-width="2.5"/><text x="362.5" y="399.4" text-anchor="middle" class="tk">100</text><line x1="422.5" y1="374" x2="422.5" y2="383" stroke="#000" stroke-width="2.5"/><text x="423.0" y="399.4" text-anchor="middle" class="tk">1000</text><line x1="483.5" y1="374" x2="483.5" y2="383" stroke="#000" stroke-width="2.5"/><text x="484.0" y="399.4" text-anchor="middle" class="tk">10000</text>
<line x1="127.6" y1="24.0" x2="163.4" y2="24.0" stroke="#3f5cc0" stroke-width="2.6"/><rect x="141.50" y="20.00" width="8.20" height="8.00" fill="#3f5cc0"/><text x="168.2" y="29.0" fill="#3f5cc0" class="lg">IFN<tspan class="gk">&#947;</tspan></text><line x1="127.6" y1="42.4" x2="163.4" y2="42.4" stroke="#e3134a" stroke-width="2.6"/><path d="M145.60 38.20L150.00 46.20L141.20 46.20Z" fill="#e3134a"/><text x="168.2" y="47.4" fill="#e3134a" class="lg">IL-1&#946;</text><line x1="127.6" y1="62.6" x2="163.4" y2="62.6" stroke="#74c33c" stroke-width="2.6"/><path d="M145.60 67.01L150.00 58.61L141.20 58.61Z" fill="#74c33c"/><text x="168.2" y="67.6" fill="#74c33c" class="lg">IL-2</text><line x1="127.6" y1="87.3" x2="163.4" y2="87.3" stroke="#f99e14" stroke-width="2.6"/><path d="M145.60 83.20L149.60 87.30L145.60 91.40L141.60 87.30Z" fill="#f99e14"/><text x="168.2" y="92.3" fill="#f99e14" class="lg">IL-4</text><line x1="127.6" y1="108" x2="163.4" y2="108" stroke="#f871bf" stroke-width="2.6"/><circle cx="145.60" cy="108.00" r="4.20" fill="#f871bf"/><text x="168.2" y="113.0" fill="#f871bf" class="lg">IL-6</text><line x1="127.6" y1="130" x2="163.4" y2="130" stroke="#e4e400" stroke-width="2.6"/><rect x="140.70" y="125.10" width="9.80" height="9.80" fill="#e4e400"/><text x="168.2" y="135.0" fill="#e4e400" class="lg">IL-8</text><line x1="127.6" y1="150.8" x2="163.4" y2="150.8" stroke="#b02208" stroke-width="2.6"/><path d="M145.60 145.03L151.10 156.03L140.10 156.03Z" fill="#b02208"/><text x="168.2" y="155.8" fill="#b02208" class="lg">IL-10</text><line x1="127.6" y1="170.4" x2="163.4" y2="170.4" stroke="#d8c47c" stroke-width="2.6"/><path d="M145.60 175.91L151.10 165.41L140.10 165.41Z" fill="#d8c47c"/><text x="168.2" y="175.4" fill="#d8c47c" class="lg">IL-12p70</text><line x1="127.6" y1="192.8" x2="163.4" y2="192.8" stroke="#6a2c9e" stroke-width="2.6"/><path d="M145.60 187.40L150.80 192.80L145.60 198.20L140.40 192.80Z" fill="#6a2c9e"/><text x="168.2" y="197.8" fill="#6a2c9e" class="lg">IL-13</text><line x1="127.6" y1="216.2" x2="163.4" y2="216.2" stroke="#20e676" stroke-width="2.6"/><circle cx="145.60" cy="216.20" r="4.80" fill="#20e676"/><text x="168.2" y="221.2" fill="#20e676" class="lg">TNF<tspan class="gk">&#945;</tspan></text>
<text x="201" y="430.5" class="tt">Concentration (pg/mL)</text>
<text transform="translate(27.8,222.3) rotate(-90)" class="tt">Signal</text>
</svg>
</body></html>
